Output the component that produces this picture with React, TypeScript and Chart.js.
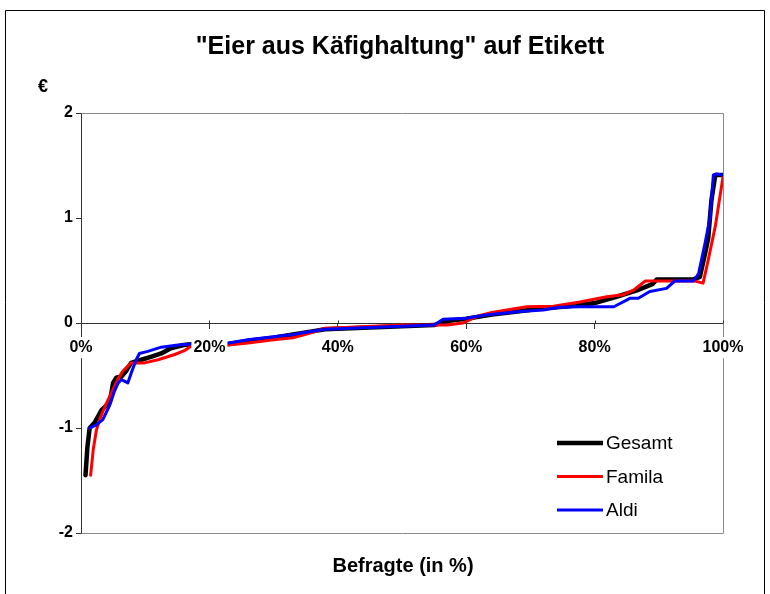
import React, { useEffect, useRef } from "react";
import { Chart, registerables } from "chart.js";

Chart.register(...registerables);

const FONT = "'Liberation Sans', Arial, Helvetica, sans-serif";
const TITLE = '"Eier aus Käfighaltung" auf Etikett';
const X_TITLE = "Befragte (in %)";
const Y_UNIT = "€";

const SERIES_NAMES = ["Gesamt", "Famila", "Aldi"];
const SERIES_COLORS = ["#000000", "#ff0000", "#0000ff"];
const SERIES_WIDTHS = [4.5, 3, 3];

const X_TICKS = [0, 20, 40, 60, 80, 100];
const Y_TICKS = [-2, -1, 0, 1, 2];

const gesamtX = [0.7, 1.0, 1.35, 2.1, 3.2, 3.7, 4.5, 5.0, 5.5, 6.3, 7.0, 7.8, 9.4, 11, 12.5, 14, 16, 17.4, 20, 23, 26, 30, 33, 36, 38, 42, 46, 50, 55, 57, 60, 64, 68, 72, 76, 80, 83.4, 86.6, 89, 89.7, 95.4, 96.4, 97.2, 97.7, 98.2, 98.8, 100];
const gesamtY = [-1.45, -1.18, -1.0, -0.95, -0.83, -0.8, -0.75, -0.57, -0.52, -0.51, -0.46, -0.38, -0.35, -0.32, -0.29, -0.24, -0.21, -0.2, -0.2, -0.2, -0.17, -0.14, -0.11, -0.08, -0.06, -0.05, -0.04, -0.03, -0.02, 0.02, 0.04, 0.08, 0.11, 0.14, 0.16, 0.19, 0.25, 0.31, 0.37, 0.415, 0.415, 0.44, 0.66, 0.81, 1.17, 1.41, 1.41];

const familaX = [1.5, 1.9, 2.4, 2.9, 3.7, 4.7, 5.8, 6.5, 7.8, 9.9, 12, 14.6, 16.2, 16.9, 17.4, 20, 23, 26, 30, 33, 36, 38, 42, 50, 57, 59.5, 62, 64, 69.4, 73.6, 77.7, 81.9, 84.5, 86, 87.9, 95.6, 96.9, 97.7, 98.8, 100];
const familaY = [-1.45, -1.21, -1.02, -0.92, -0.8, -0.67, -0.53, -0.46, -0.38, -0.38, -0.35, -0.3, -0.26, -0.23, -0.21, -0.2, -0.21, -0.19, -0.16, -0.14, -0.09, -0.05, -0.04, -0.02, -0.02, 0.0, 0.07, 0.1, 0.155, 0.16, 0.2, 0.25, 0.27, 0.31, 0.4, 0.4, 0.38, 0.6, 0.92, 1.39];

const aldiX = [1.35, 2.4, 3.4, 4.5, 5.2, 5.8, 6.3, 7.3, 7.8, 8.6, 9.1, 10.4, 12.5, 15.1, 17.2, 20, 23, 26, 30, 33, 38, 42, 50, 55, 56.4, 60, 63, 68.4, 72, 74.6, 77.7, 83, 85.5, 86.8, 88.6, 91.2, 92.5, 95.4, 96.2, 97.2, 98, 98.5, 99, 100];
const aldiY = [-1.0, -0.97, -0.92, -0.78, -0.65, -0.57, -0.54, -0.57, -0.48, -0.35, -0.29, -0.27, -0.23, -0.21, -0.2, -0.2, -0.19, -0.16, -0.13, -0.11, -0.06, -0.05, -0.03, -0.02, 0.035, 0.045, 0.076, 0.11, 0.124, 0.15, 0.155, 0.155, 0.235, 0.235, 0.3, 0.33, 0.4, 0.4, 0.47, 0.76, 1.01, 1.41, 1.42, 1.41];

const SERIES_X = [gesamtX, familaX, aldiX];
const SERIES_Y = [gesamtY, familaY, aldiY];

const decorPlugin = {
  id: "decor",
  beforeDraw(chart: any) {
    const ctx = chart.ctx;
    ctx.save();
    ctx.fillStyle = "#ffffff";
    ctx.fillRect(0, 0, chart.width, chart.height);
    // outer frame
    ctx.strokeStyle = "#000000";
    ctx.lineWidth = 1;
    ctx.beginPath();
    ctx.moveTo(5.5, chart.height + 5);
    ctx.lineTo(5.5, 10.5);
    ctx.lineTo(764.5, 10.5);
    ctx.lineTo(764.5, chart.height + 5);
    ctx.stroke();
    ctx.fillStyle = "#000000";
    ctx.textAlign = "center";
    ctx.textBaseline = "middle";
    ctx.font = `bold 25px ${FONT}`;
    ctx.fillText(TITLE, 400, 47);
    ctx.font = `bold 18px ${FONT}`;
    ctx.fillText(Y_UNIT, 43, 87);
    ctx.font = `bold 20px ${FONT}`;
    ctx.fillText(X_TITLE, 403, 566);
    ctx.restore();
  },
  beforeDatasetsDraw(chart: any) {
    const ctx = chart.ctx;
    const a = chart.chartArea;
    ctx.save();
    ctx.strokeStyle = "#8a8a8a";
    ctx.lineWidth = 1;
    ctx.beginPath();
    ctx.moveTo(Math.round(a.left) + 0.5, Math.round(a.top) + 0.5);
    ctx.lineTo(Math.round(a.right) + 0.5, Math.round(a.top) + 0.5);
    ctx.lineTo(Math.round(a.right) + 0.5, Math.round(a.bottom) + 0.5);
    ctx.lineTo(Math.round(a.left) + 0.5, Math.round(a.bottom) + 0.5);
    ctx.stroke();
    // upward half of the x tick marks
    const xs = chart.scales.x;
    const y0 = Math.round(chart.scales.y.getPixelForValue(0)) + 0.5;
    ctx.strokeStyle = "#333333";
    ctx.beginPath();
    X_TICKS.forEach((v) => {
      const px = Math.round(xs.getPixelForValue(v)) + 0.5;
      ctx.moveTo(px, y0 - 3);
      ctx.lineTo(px, y0);
    });
    ctx.stroke();
    ctx.restore();
  },
  afterDraw(chart: any) {
    const ctx = chart.ctx;
    ctx.save();
    ctx.font = `19px ${FONT}`;
    ctx.textAlign = "left";
    ctx.textBaseline = "middle";
    chart.data.datasets.forEach((ds: any, i: number) => {
      const y = 443 + i * 33.5;
      ctx.strokeStyle = ds.borderColor;
      ctx.lineWidth = ds.borderWidth;
      ctx.beginPath();
      ctx.moveTo(557, y);
      ctx.lineTo(603, y);
      ctx.stroke();
      ctx.fillStyle = "#000000";
      ctx.fillText(ds.label, 606, y + 1);
    });
    ctx.restore();
  },
};

export default function App() {
  const ref = useRef<HTMLCanvasElement | null>(null);
  useEffect(() => {
    if (!ref.current) return;
    const datasets = SERIES_NAMES.map((name, i) => ({
      label: name,
      data: SERIES_X[i].map((x, j) => ({ x, y: SERIES_Y[i][j] })),
      borderColor: SERIES_COLORS[i],
      backgroundColor: SERIES_COLORS[i],
      borderWidth: SERIES_WIDTHS[i],
      pointRadius: 0,
      tension: 0,
      fill: false,
      order: 3 - i,
      borderJoinStyle: "round" as const,
      borderCapStyle: "round" as const,
      xAxisID: "x",
      yAxisID: "y",
    }));
    const chart = new Chart(ref.current, {
      type: "line",
      data: { datasets },
      plugins: [decorPlugin],
      options: {
        responsive: false,
        animation: false,
        devicePixelRatio: 1,
        layout: { padding: { top: 113, right: 47, bottom: 61, left: 0 } },
        plugins: { legend: { display: false }, title: { display: false }, tooltip: { enabled: false } },
        scales: {
          y: {
            type: "linear",
            position: "left",
            min: -2,
            max: 2,
            afterFit: (s: any) => {
              s.width = 81;
            },
            afterBuildTicks: (s: any) => {
              s.ticks = Y_TICKS.map((v) => ({ value: v }));
            },
            grid: { drawOnChartArea: false, tickLength: 5, color: "#333333" },
            border: { color: "#333333" },
            ticks: {
              padding: 3,
              color: "#000000",
              font: { family: FONT, size: 16, weight: "bold" },
            },
          },
          x: {
            type: "linear",
            axis: "x",
            position: { y: 0 },
            min: 0,
            max: 100,
            afterBuildTicks: (s: any) => {
              s.ticks = X_TICKS.map((v) => ({ value: v }));
            },
            grid: { drawOnChartArea: false, tickLength: 5, color: "#333333" },
            border: { color: "#333333" },
            ticks: { display: false },
          },
          xl: {
            type: "linear",
            axis: "x",
            position: { y: 0 },
            min: 0,
            max: 100,
            afterBuildTicks: (s: any) => {
              s.ticks = X_TICKS.map((v) => ({ value: v }));
            },
            grid: { display: false, drawTicks: false, tickLength: 5 },
            border: { display: false },
            ticks: {
              z: 2,
              padding: 15,
              color: "#000000",
              font: { family: FONT, size: 16, weight: "bold" },
              callback: (v: any) => `${v}%`,
              showLabelBackdrop: true,
              backdropColor: "#ffffff",
              backdropPadding: { top: 1, bottom: 1, left: 2, right: 2 },
              maxRotation: 0,
              autoSkip: false,
            },
          },
        },
      } as any,
    });
    return () => chart.destroy();
  }, []);
  return (
    <div style={{ position: "absolute", left: 0, top: 0, width: 770, height: 594 }}>
      <canvas ref={ref} width={770} height={594} style={{ display: "block" }} />
    </div>
  );
}
